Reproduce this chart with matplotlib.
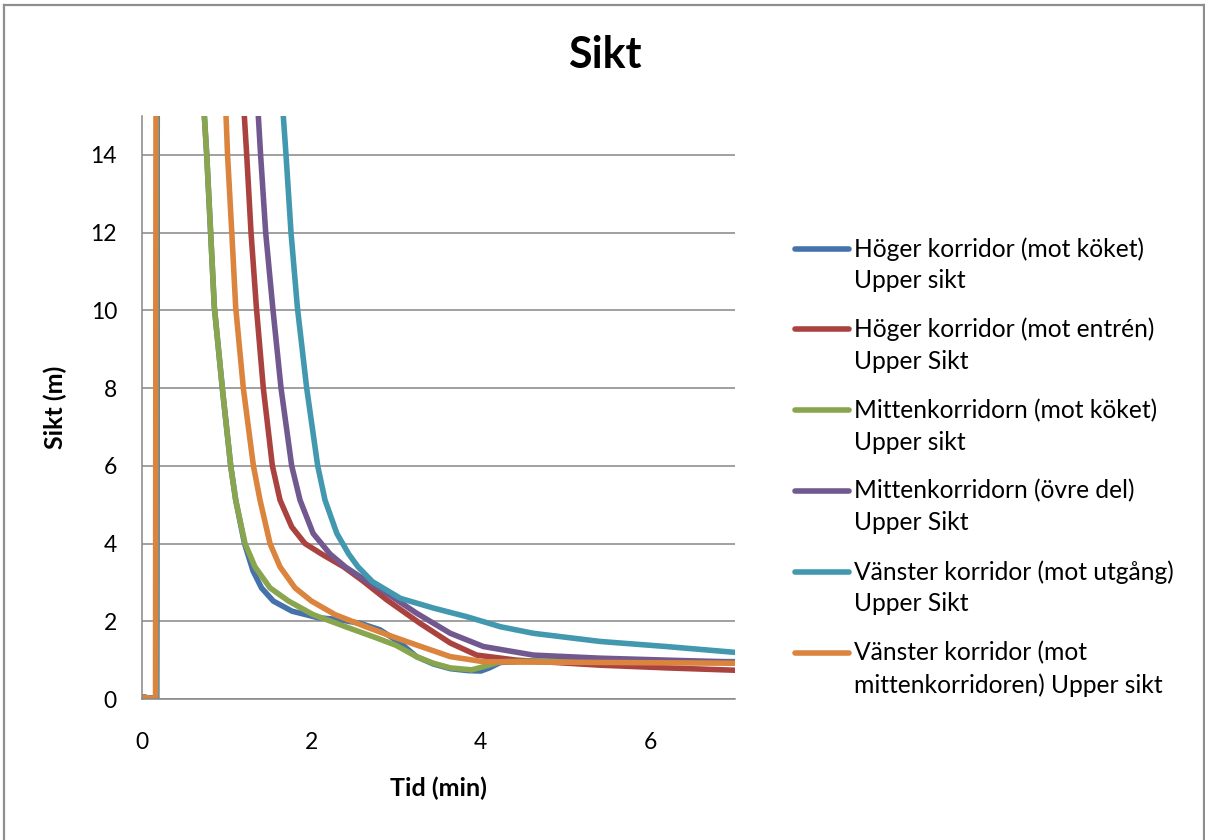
import numpy as np
import matplotlib.pyplot as plt
from matplotlib.lines import Line2D
from matplotlib.legend_handler import HandlerLine2D

plt.rcParams['font.family'] = ['Lato', 'DejaVu Sans']

# tid (min) och sikt (m)
t_hk = [0, 0.17, 0.19, 0.70, 0.736, 0.764, 0.81, 0.854, 0.948, 1.047, 1.106,
        1.21, 1.31, 1.41, 1.55, 1.77, 2.08, 2.3, 2.57, 2.81, 3.05, 3.24,
        3.44, 3.64, 3.85, 4.0, 4.1, 4.23, 4.5, 5.0, 6.0, 7.0]
s_hk = [0.05, 0, 30, 16, 15, 14, 12, 10.08, 8, 6, 5.12,
        4, 3.3, 2.86, 2.52, 2.26, 2.09, 2.05, 1.95, 1.78, 1.44, 1.09,
        0.9, 0.78, 0.73, 0.72, 0.8, 0.94, 0.97, 0.97, 0.96, 0.96]

t_he = [0, 0.17, 0.18, 1.18, 1.208, 1.236, 1.287, 1.35, 1.432, 1.539, 1.629,
        1.767, 1.924, 2.12, 2.38, 2.6, 2.89, 3.28, 3.64, 3.95, 4.42, 5.41,
        6.2, 7.0]
s_he = [0.05, 0, 30, 16, 15, 14, 12, 10.08, 8, 6, 5.12,
        4.43, 4, 3.73, 3.4, 3.05, 2.55, 1.95, 1.44, 1.13, 1.0, 0.87,
        0.8, 0.74]

t_mk = [0, 0.17, 0.19, 0.70, 0.736, 0.764, 0.81, 0.854, 0.948, 1.047, 1.106,
        1.216, 1.334, 1.511, 1.73, 2.02, 2.44, 2.77, 3.0, 3.24, 3.44,
        3.64, 3.89, 4.03, 4.23, 4.5, 5.0, 6.0, 7.0]
s_mk = [0.05, 0, 30, 16, 15, 14, 12, 10.08, 8, 6, 5.12,
        4, 3.4, 2.86, 2.52, 2.17, 1.83, 1.57, 1.38, 1.09, 0.92,
        0.8, 0.75, 0.83, 0.96, 0.97, 0.97, 0.96, 0.96]

t_mo = [0, 0.17, 0.18, 1.34, 1.373, 1.40, 1.46, 1.543, 1.641, 1.767, 1.865,
        2.02, 2.22, 2.40, 2.62, 2.89, 3.24, 3.64, 4.03, 4.62, 5.41, 6.2, 7.0]
s_mo = [0.05, 0, 30, 16, 15, 14, 12, 10.08, 8, 6, 5.12,
        4.26, 3.73, 3.4, 3.08, 2.72, 2.21, 1.69, 1.35, 1.13, 1.05, 1.0, 0.95]

t_vu = [0, 0.17, 0.18, 1.64, 1.668, 1.70, 1.759, 1.834, 1.944, 2.074, 2.16,
        2.30, 2.44, 2.55, 2.72, 3.05, 3.44, 3.83, 4.23, 4.62, 5.41, 6.19, 7.0]
s_vu = [0.05, 0, 30, 16, 15, 14, 12, 10.08, 8, 6, 5.12,
        4.26, 3.73, 3.4, 3.02, 2.59, 2.34, 2.12, 1.86, 1.69, 1.48, 1.35, 1.2]

t_vm = [0, 0.16, 0.17, 0.96, 0.992, 1.01, 1.06, 1.106, 1.196, 1.315, 1.393,
        1.511, 1.629, 1.806, 2.0, 2.28, 2.63, 2.9, 3.24, 3.64, 4.03, 4.5,
        5.5, 7.0]
s_vm = [0.05, 0, 30, 16, 15, 14, 12, 10.08, 8, 6, 5.12,
        4, 3.4, 2.86, 2.52, 2.17, 1.87, 1.65, 1.39, 1.09, 0.96, 0.95,
        0.94, 0.92]

labels = ['Höger korridor (mot köket)\nUpper sikt',
          'Höger korridor (mot entrén)\nUpper Sikt',
          'Mittenkorridorn (mot köket)\nUpper sikt',
          'Mittenkorridorn (övre del)\nUpper Sikt',
          'Vänster korridor (mot utgång)\nUpper Sikt',
          'Vänster korridor (mot\nmittenkorridoren) Upper sikt']
colors = ['#4572aa', '#aa4240', '#89a54e', '#71588f', '#4198af', '#db843d']
series = [(t_hk, s_hk), (t_he, s_he), (t_mk, s_mk),
          (t_mo, s_mo), (t_vu, s_vu), (t_vm, s_vm)]


class FirstLineHandler(HandlerLine2D):
    # lägg linjen i höjd med första textraden
    def create_artists(self, legend, orig_handle, xdescent, ydescent,
                       width, height, fontsize, trans):
        return super().create_artists(legend, orig_handle, xdescent,
                                      ydescent - 24.5, width, height,
                                      fontsize, trans)


fig = plt.figure(figsize=(12.05, 8.4), dpi=100)
ax = fig.add_axes([142/1205, 1-699/840, 593/1205, 583/840])

grid_c = '#868686'
for (t, s), c, lab in zip(series, colors, labels):
    ax.plot(t, s, color=c, linewidth=4.0, label=lab, solid_capstyle='round',
            solid_joinstyle='round')

ax.set_xlim(0, 7)
ax.set_ylim(0, 15)
ax.set_xticks([0, 2, 4, 6])
ax.set_yticks(np.arange(0, 15, 2))
ax.yaxis.grid(True, color=grid_c, linewidth=1.1)
ax.set_axisbelow(True)
ax.tick_params(length=0, labelsize=16.5)
ax.tick_params(axis='y', pad=18)
ax.tick_params(axis='x', pad=24)
for side in ['top', 'right']:
    ax.spines[side].set_visible(False)
for side in ['left', 'bottom']:
    ax.spines[side].set_color(grid_c)
    ax.spines[side].set_linewidth(1.1)

ax.set_xlabel('Tid (min)', fontsize=18, fontweight='bold')
ax.set_ylabel('Sikt (m)', fontsize=18, fontweight='bold')
ax.xaxis.set_label_coords(0.5, -0.133)
ax.yaxis.set_label_coords(-0.126, 0.5)

fig.text(605/1205, 1-55/840, 'Sikt', fontsize=31, fontweight='bold',
         ha='center', va='center')

leg = fig.legend(loc='upper left', bbox_to_anchor=(795/1205, 1-237/840),
                 frameon=False, fontsize=17.7, borderpad=0, borderaxespad=0,
                 handlelength=2.2, handletextpad=0.2, labelspacing=1.04,
                 handler_map={Line2D: FirstLineHandler()})
for txt in leg.get_texts():
    txt.set_linespacing(1.46)
for ln in leg.get_lines():
    ln.set_linewidth(4.0)

# ram runt diagramytan
border = dict(color='#8e8e8e', linewidth=1.6, transform=fig.transFigure)
fig.add_artist(Line2D([3.5/1205, 3.5/1205], [0, 1-4.5/840], **border))
fig.add_artist(Line2D([3.5/1205, 1203.5/1205], [1-4.5/840, 1-4.5/840], **border))
fig.add_artist(Line2D([1203.5/1205, 1203.5/1205], [0, 1-4.5/840], **border))

fig.savefig('out.png', dpi=100)
